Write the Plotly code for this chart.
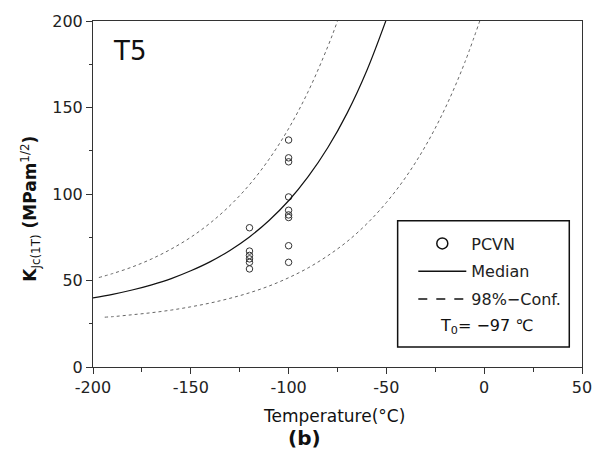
import plotly.graph_objects as go

# PCVN test results
pcvn_temp = [-120, -120, -120, -120, -120, -120,
             -100, -100, -100, -100, -100, -100, -100, -100, -100]
pcvn_k = [80.5, 67.0, 64.5, 62.5, 60.5, 56.7,
          131.2, 120.9, 118.6, 98.3, 90.6, 87.9, 86.4, 70.1, 60.5]

# median master curve
med_temp = [-200, -190, -180, -170, -160, -150, -140, -130, -120, -110,
            -100, -90, -80, -70, -60, -50]
med_k = [39.9, 42.0, 44.5, 47.5, 51.1, 55.6, 60.9, 67.4, 75.2, 84.7,
         96.1, 110.0, 126.7, 146.9, 171.4, 201.0]

# 98% confidence bounds
up_temp = [-197, -190, -180, -170, -160, -150, -140, -130, -120, -110,
           -100, -90, -80, -75, -70]
up_k = [51.7, 54.0, 57.8, 62.5, 68.2, 75.0, 83.3, 93.3, 105.4, 120.1,
        137.8, 159.2, 185.1, 200.0, 216.4]
lo_temp = [-194, -190, -180, -170, -160, -150, -140, -130, -120, -110,
           -100, -90, -80, -70, -60, -50, -40, -30, -20, -10, 0]
lo_k = [28.8, 29.1, 30.2, 31.4, 32.9, 34.8, 37.0, 39.7, 42.9, 46.8,
        51.6, 57.3, 64.3, 72.6, 82.8, 95.1, 109.9, 127.8, 149.5, 175.8, 207.5]

# axis ticks
x_ticks = [-200, -150, -100, -50, 0, 50]
x_ticklabels = ['-200', '-150', '-100', '-50', '0', '50']
y_ticks = [0, 50, 100, 150, 200]
y_ticklabels = ['0', '50', '100', '150', '200']

FONT = 'DejaVu Sans'
INK = '#222222'

fig = go.Figure()

# data
fig.add_trace(go.Scatter(x=pcvn_temp, y=pcvn_k, mode='markers', showlegend=False,
                         marker=dict(symbol='circle-open', size=6.5, color='#333333',
                                     line=dict(width=1))))
fig.add_trace(go.Scatter(x=med_temp, y=med_k, mode='lines', line_shape='spline',
                         line=dict(color='#111111', width=1.2), showlegend=False))
for t, k in [(up_temp, up_k), (lo_temp, lo_k)]:
    fig.add_trace(go.Scatter(x=t, y=k, mode='lines', line_shape='spline', showlegend=False,
                             line=dict(color='#666666', width=1, dash='dot')))

# legend entries
fig.add_trace(go.Scatter(x=[None], y=[None], mode='markers', name='PCVN', legendgroup='a',
                         marker=dict(symbol='circle-open', size=11, color='#111111',
                                     line=dict(width=1.5))))
fig.add_trace(go.Scatter(x=[None], y=[None], mode='lines', name='Median', legendgroup='b',
                         line=dict(color='#111111', width=1.5)))
fig.add_trace(go.Scatter(x=[None], y=[None], mode='lines', name='98%\u2212Conf.', legendgroup='c',
                         line=dict(color='#111111', width=1.5, dash='dash')))

fig.add_shape(type='rect', xref='paper', yref='paper', x0=0.623, x1=0.974, y0=0.0575, y1=0.4224,
              line=dict(color='#111111', width=1.5), fillcolor='white', layer='below')

annotations = [
    dict(text='T5', x=0.075, y=0.914, font=dict(size=26, color='#111111')),
    dict(text='T<sub>0</sub>= \u221297 \u2103', x=0.805, y=0.118, font=dict(size=16, color='#111111')),
    dict(text='<b>K</b><sub>Jc(1T)</sub><b> (MPam</b><sup>1/2</sup><b>)</b>', x=-0.127, y=0.457,
         textangle=-90, font=dict(size=17, color='#111111')),
    dict(text='Temperature(\u00b0C)', x=0.492, y=-0.142, font=dict(size=17, color='#111111')),
    dict(text='<b>(b)</b>', x=0.433, y=-0.204, font=dict(size=20, color='#111111')),
]
for a in annotations:
    fig.add_annotation(xref='paper', yref='paper', showarrow=False, xanchor='center',
                       yanchor='middle', **a)

axis_common = dict(showgrid=False, zeroline=False, showline=True, mirror=True,
                   linecolor='#333333', linewidth=1, ticks='outside', ticklen=6,
                   tickcolor='#333333', tickfont=dict(family=FONT, size=16, color=INK))

fig.update_xaxes(range=[-200, 50], tickvals=x_ticks, ticktext=x_ticklabels,
                 minor=dict(ticks='outside', ticklen=4, tickvals=[-175, -125, -75, -25, 25],
                            tickcolor='#333333'),
                 **axis_common)
fig.update_yaxes(range=[0, 200], tickvals=y_ticks, ticktext=y_ticklabels,
                 minor=dict(ticks='outside', ticklen=3, tickvals=[25, 75, 125, 175],
                            tickcolor='#333333'),
                 **axis_common)

fig.update_layout(
    width=604, height=456,
    margin=dict(l=93, r=15, t=19, b=89),
    paper_bgcolor='white', plot_bgcolor='white',
    font=dict(family=FONT, size=16, color=INK),
    legend=dict(x=0.655, y=0.406, xanchor='left', yanchor='top', bgcolor='rgba(0,0,0,0)',
                font=dict(size=16, family=FONT), itemwidth=48, tracegroupgap=4,
                itemclick=False),
)

# page body has a default 8px margin; drop it so the figure sits at the window origin
fig.write_html("out.html", config={'displayModeBar': False},
               post_script="document.body.style.margin='0';")
